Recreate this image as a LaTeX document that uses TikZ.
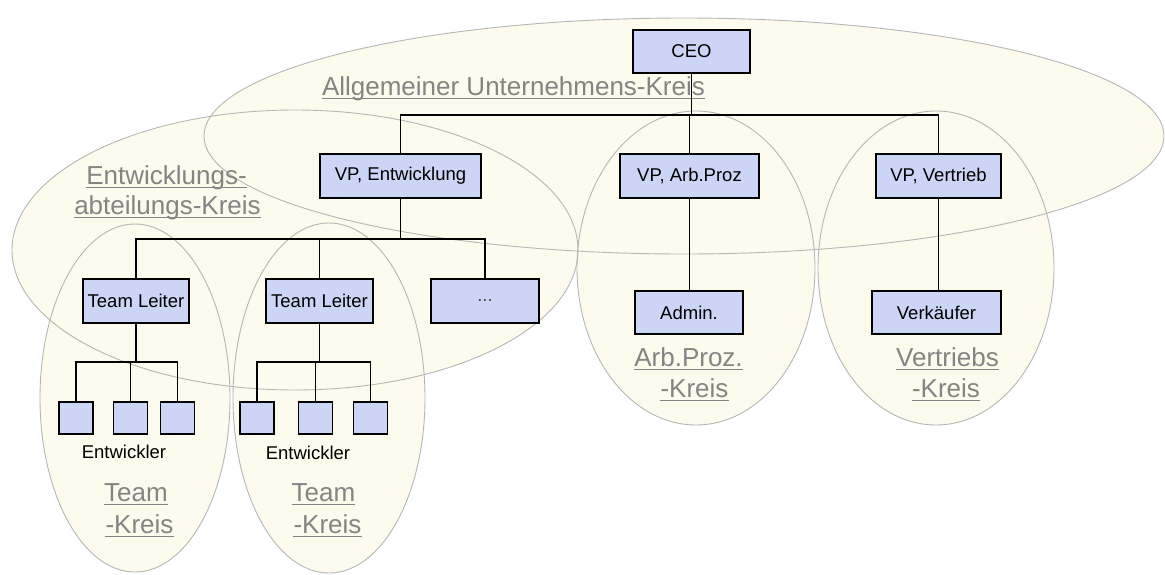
\documentclass[tikz,border=0pt]{standalone}
\usepackage{fontspec}
\setmainfont{Liberation Sans}
\definecolor{boxfill}{RGB}{204,213,245}
\definecolor{ellfill}{RGB}{252,251,237}
\definecolor{ellline}{RGB}{182,182,182}
\definecolor{labgray}{RGB}{132,132,132}
\begin{document}
\begin{tikzpicture}[x=1pt,y=-1pt,
  box/.style={draw=black, line width=1.6pt, fill=boxfill, inner sep=0pt, font=\fontsize{18.5}{20}\selectfont},
  devbox/.style={draw=black, line width=1.6pt, fill=boxfill, minimum width=34pt, minimum height=32pt, inner sep=0pt},
  conn/.style={line width=1.8pt, draw=black},
  circfill/.style={fill=ellfill},
  circline/.style={draw=ellline, line width=0.9pt},
  lab/.style={text=labgray, font=\fontsize{26}{28}\selectfont, anchor=base, inner sep=0pt},
  uline/.style={draw=labgray, line width=1.3pt},
  devlab/.style={font=\fontsize{18.5}{20}\selectfont, inner sep=0pt},
]
\useasboundingbox (0,0) rectangle (1165,574);
% circles (fills)
\fill[circfill] (684,136) ellipse [x radius=480pt, y radius=118pt];
\fill[circfill] (295,250) ellipse [x radius=283pt, y radius=140pt];
\fill[circfill] (135,398) ellipse [x radius=95pt, y radius=174pt];
\fill[circfill] (329,398) ellipse [x radius=96pt, y radius=175pt];
\fill[circfill] (696,268) ellipse [x radius=119pt, y radius=157pt];
\fill[circfill] (936,268) ellipse [x radius=118pt, y radius=157pt];
% circles (outlines)
\draw[circline] (684,136) ellipse [x radius=480pt, y radius=118pt];
\draw[circline] (295,250) ellipse [x radius=283pt, y radius=140pt];
\draw[circline] (135,398) ellipse [x radius=95pt, y radius=174pt];
\draw[circline] (329,398) ellipse [x radius=96pt, y radius=175pt];
\draw[circline] (696,268) ellipse [x radius=119pt, y radius=157pt];
\draw[circline] (936,268) ellipse [x radius=118pt, y radius=157pt];

% circle labels
\node[lab] (l1) at (513.5,95) {Allgemeiner Unternehmens-Kreis};
\node[lab] (l2a) at (166.5,184) {Entwicklungs-};
\node[lab] (l2b) at (167.5,214) {abteilungs-Kreis};
\node[lab] (l3a) at (688.5,366) {Arb.Proz.};
\node[lab] (l3b) at (694.5,397) {-Kreis};
\node[lab] (l4a) at (947.5,366) {Vertriebs};
\node[lab] (l4b) at (946,397) {-Kreis};
\node[lab] (l5a) at (136,501) {Team};
\node[lab] (l5b) at (139.5,533) {-Kreis};
\node[lab] (l6a) at (323.5,501) {Team};
\node[lab] (l6b) at (327.5,533) {-Kreis};
\foreach \n in {l1,l2a,l2b,l3a,l3b,l4a,l4b,l5a,l5b,l6a,l6b}
  \draw[uline] ([yshift=-3.5pt]\n.base west) -- ([yshift=-3.5pt]\n.base east);

% boxes
\node[box, minimum width=117pt, minimum height=43pt] (ceo) at (691.5,51.5) {CEO};
\node[box, minimum width=161pt, minimum height=44pt] (vpe) at (400.5,176) {VP, Entwicklung};
\node[box, minimum width=139pt, minimum height=44pt] (vpa) at (689.5,176) {VP, Arb.Proz};
\node[box, minimum width=125pt, minimum height=44pt] (vpv) at (938.5,176) {VP, Vertrieb};
\node[box, minimum width=108pt, minimum height=43pt] (adm) at (689,312.5) {Admin.};
\node[box, minimum width=129pt, minimum height=43pt] (verk) at (936.5,312.5) {Verkäufer};
\node[box, minimum width=106pt, minimum height=44pt] (tl1) at (136,301) {Team Leiter};
\node[box, minimum width=107pt, minimum height=44pt] (tl2) at (319.5,301) {Team Leiter};
\node[box, minimum width=108pt, minimum height=44pt, text=black!70] (dots) at (485,301) {...};
\node[devbox] (d11) at (76,418) {};
\node[devbox] (d12) at (130.5,418) {};
\node[devbox] (d13) at (177.5,418) {};
\node[devbox] (d21) at (257,418) {};
\node[devbox] (d22) at (315.5,418) {};
\node[devbox] (d23) at (370.5,418) {};
\node[devlab] (e1) at (124,452) {Entwickler};
\node[devlab] (e2) at (308,453) {Entwickler};

% connectors
\coordinate (bus1) at (0,115);
\coordinate (bus2) at (0,239);
\coordinate (bus3) at (0,362);
\draw[conn] (ceo.south) -- (ceo.south |- bus1);
\draw[conn] (vpe.north) -- (vpe.north |- bus1) -| (vpv.north);
\draw[conn] (vpa.north) -- (vpa.north |- bus1);
\draw[conn] (vpa.south) -- (vpa.south |- adm.north);
\draw[conn] (vpv.south) -- (vpv.south |- verk.north);
\draw[conn] (vpe.south) -- (vpe.south |- bus2);
\draw[conn] (tl1.north) -- (tl1.north |- bus2) -| (dots.north);
\draw[conn] (tl2.north) -- (tl2.north |- bus2);
\draw[conn] (tl1.south) -- (tl1.south |- bus3);
\draw[conn] (d11.north) -- (d11.north |- bus3) -| (d13.north);
\draw[conn] (d12.north) -- (d12.north |- bus3);
\draw[conn] (tl2.south) -- (tl2.south |- bus3);
\draw[conn] (d21.north) -- (d21.north |- bus3) -| (d23.north);
\draw[conn] (d22.north) -- (d22.north |- bus3);
\end{tikzpicture}
\end{document}
